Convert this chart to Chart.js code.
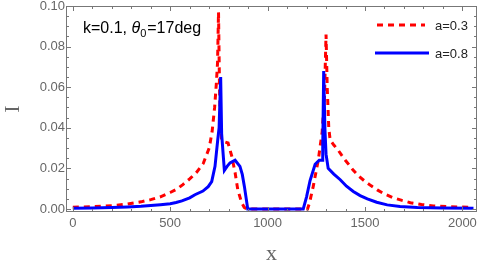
<!DOCTYPE html>
<html>
<head>
<meta charset="utf-8">
<script src="https://cdn.jsdelivr.net/npm/chart.js@4"></script>
<style>
  body { margin: 0; background: #fff; }
  #wrap { width: 480px; height: 267px; }
</style>
</head>
<body>
<div id="wrap"><canvas id="chart" width="480" height="267"></canvas></div>
<script>
// a=0.3 (red dashed)
const redX = [0, 100, 200, 280, 350, 400, 450, 500, 535, 565, 600, 635, 670, 700, 715, 728, 737, 743, 748, 753, 758, 764, 780, 797, 816, 833, 847, 867, 880, 893, 1000, 1100, 1205, 1215, 1234, 1260, 1280, 1292, 1300, 1306, 1314, 1321, 1340, 1362, 1380, 1399, 1420, 1440, 1470, 1501, 1530, 1563, 1600, 1645, 1690, 1733, 1790, 1851, 1940, 2050]
const redY = [0.0009, 0.0011, 0.0016, 0.0024, 0.0035, 0.0046, 0.006, 0.0081, 0.0098, 0.012, 0.0148, 0.018, 0.0225, 0.03, 0.038, 0.05, 0.062, 0.072, 0.097, 0.06, 0.04, 0.034, 0.033, 0.0325, 0.026, 0.018, 0.0094, 0.003, 0.0008, 0, 0, 0, 0, 0.003, 0.011, 0.024, 0.038, 0.055, 0.086, 0.06, 0.04, 0.034, 0.0315, 0.029, 0.0265, 0.024, 0.0215, 0.019, 0.016, 0.0135, 0.0115, 0.0094, 0.0074, 0.0055, 0.0042, 0.0031, 0.0022, 0.0015, 0.0011, 0.0008]

// a=0.8 (blue solid)
const blueX = [0, 100, 200, 280, 350, 400, 450, 500, 530, 560, 600, 627, 668, 695, 713, 730, 744, 751, 759, 764, 778, 792, 807, 833, 858, 870, 881, 898, 1000, 1100, 1183, 1200, 1218, 1244, 1265, 1280, 1283, 1288, 1294, 1300, 1311, 1340, 1373, 1405, 1440, 1475, 1512, 1560, 1614, 1680, 1769, 1900, 2057]
const blueY = [0.0004, 0.0005, 0.0007, 0.001, 0.0013, 0.0017, 0.0021, 0.0026, 0.0032, 0.004, 0.0055, 0.007, 0.0088, 0.011, 0.0135, 0.021, 0.034, 0.04, 0.065, 0.037, 0.019, 0.021, 0.0227, 0.024, 0.021, 0.017, 0.011, 0, 0, 0, 0, 0.006, 0.014, 0.022, 0.024, 0.024, 0.03, 0.068, 0.04, 0.027, 0.02, 0.0172, 0.0144, 0.0112, 0.0086, 0.0066, 0.005, 0.0033, 0.002, 0.0012, 0.0007, 0.0005, 0.0004]

const labels = ['a=0.3', 'a=0.8']
const xTicks = [0, 500, 1000, 1500, 2000]
const yTicks = [0, 0.02, 0.04, 0.06, 0.08, 0.1]

function pts(xs, ys) {
  return xs.map((x, i) => ({ x: x, y: ys[i] }))
}

const gray = '#666666'
const frameColor = '#777777'

// frame on all four sides, inward ticks, annotation and legend
const framePlugin = {
  id: 'frame',
  afterDraw(chart) {
    const ctx = chart.ctx
    const a = chart.chartArea
    const xs = chart.scales.x
    const ys = chart.scales.y
    ctx.save()
    ctx.strokeStyle = frameColor
    ctx.lineWidth = 1
    ctx.strokeRect(a.left + 0.5, a.top + 0.5, a.right - a.left - 1, a.bottom - a.top - 1)
    ctx.beginPath()
    for (let v = 0; v <= 2000; v += 100) {
      const p = Math.round(xs.getPixelForValue(v)) + 0.5
      const len = v % 500 === 0 ? 5 : 3
      ctx.moveTo(p, a.bottom); ctx.lineTo(p, a.bottom - len)
      ctx.moveTo(p, a.top); ctx.lineTo(p, a.top + len)
    }
    for (let k = 0; k <= 20; k++) {
      const v = k * 0.005
      const p = Math.round(ys.getPixelForValue(v)) + 0.5
      const len = k % 4 === 0 ? 5 : 3
      ctx.moveTo(a.left, p); ctx.lineTo(a.left + len, p)
      ctx.moveTo(a.right, p); ctx.lineTo(a.right - len, p)
    }
    ctx.stroke()

    // annotation
    ctx.fillStyle = '#000'
    ctx.textBaseline = 'alphabetic'
    let tx = 83
    const ty = 33
    ctx.font = '16px "Liberation Sans", Arial, sans-serif'
    ctx.fillText('k=0.1, ', tx, ty)
    tx += ctx.measureText('k=0.1, ').width
    ctx.font = 'italic 16px "Liberation Sans", Arial, sans-serif'
    ctx.fillText('θ', tx, ty)
    tx += ctx.measureText('θ').width
    ctx.font = '11px "Liberation Sans", Arial, sans-serif'
    ctx.fillText('0', tx, ty + 4)
    tx += ctx.measureText('0').width + 1
    ctx.font = '16px "Liberation Sans", Arial, sans-serif'
    ctx.fillText('=17deg', tx, ty)

    // legend
    const rows = [[377, 425, 25], [375, 429, 53]]
    chart.data.datasets.forEach((ds, i) => {
      const r = rows[i]
      ctx.strokeStyle = ds.borderColor
      ctx.lineWidth = ds.borderWidth
      ctx.setLineDash(ds.borderDash || [])
      ctx.beginPath()
      ctx.moveTo(r[0], r[2]); ctx.lineTo(r[1], r[2])
      ctx.stroke()
      ctx.setLineDash([])
      ctx.fillStyle = '#222'
      ctx.font = '13px "Liberation Sans", Arial, sans-serif'
      ctx.textBaseline = 'middle'
      ctx.fillText(ds.label, 435, r[2] + 1)
    })
    ctx.restore()
  }
}

new Chart(document.getElementById('chart').getContext('2d'), {
  type: 'line',
  data: {
    datasets: [
      {
        label: labels[0],
        data: pts(redX, redY),
        borderColor: '#ff0000',
        borderWidth: 3,
        borderDash: [6, 5],
        pointRadius: 0,
        tension: 0,
        order: 1
      },
      {
        label: labels[1],
        data: pts(blueX, blueY),
        borderColor: '#0000ff',
        borderWidth: 3,
        pointRadius: 0,
        tension: 0,
        order: 0
      }
    ]
  },
  options: {
    responsive: false,
    animation: false,
    layout: { padding: { top: 6, right: 3, left: 0, bottom: 0 } },
    plugins: { legend: { display: false }, tooltip: { enabled: false } },
    scales: {
      x: {
        type: 'linear',
        min: -35,
        max: 2075,
        afterBuildTicks: s => { s.ticks = xTicks.map(v => ({ value: v })) },
        afterFit: s => { s.height = 55; s.paddingLeft = 0; s.paddingRight = 0 },
        grid: { display: false, drawTicks: false },
        border: { display: false },
        ticks: {
          color: gray,
          padding: 4,
          maxRotation: 0,
          font: { family: '"Liberation Sans", Arial, sans-serif', size: 13 },
          callback: v => String(v)
        },
        title: {
          display: true,
          text: 'x',
          color: gray,
          padding: 0,
          font: { family: '"Liberation Serif", "DejaVu Serif", serif', size: 22 }
        }
      },
      y: {
        min: -0.0015,
        max: 0.1,
        afterBuildTicks: s => { s.ticks = yTicks.map(v => ({ value: v })) },
        afterFit: s => { s.width = 66; s.paddingTop = 0; s.paddingBottom = 0 },
        grid: { display: false, drawTicks: false },
        border: { display: false },
        ticks: {
          color: gray,
          padding: 1,
          font: { family: '"Liberation Sans", Arial, sans-serif', size: 13 },
          callback: v => v.toFixed(2)
        },
        title: {
          display: true,
          text: 'I',
          color: gray,
          padding: 0,
          font: { family: '"Liberation Serif", "DejaVu Serif", serif', size: 22 }
        }
      }
    }
  },
  plugins: [framePlugin]
})
</script>
</body>
</html>
